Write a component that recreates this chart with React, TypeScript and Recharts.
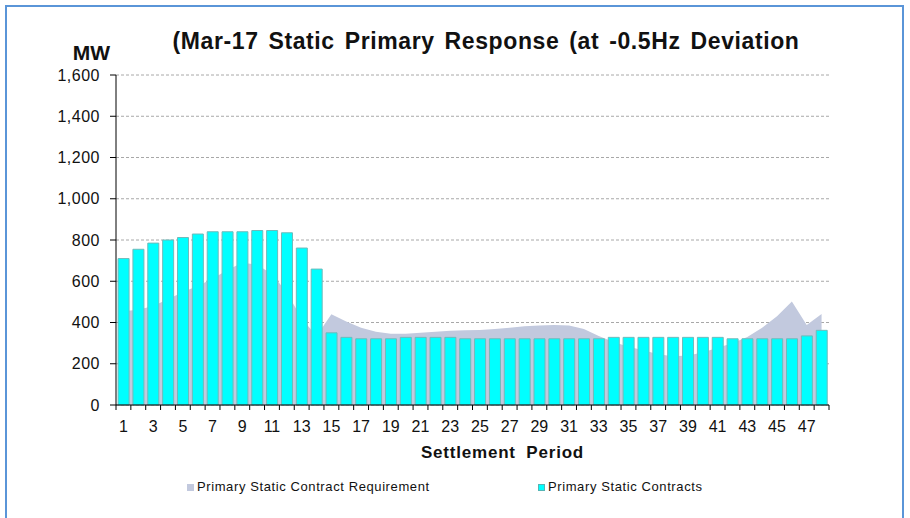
import React from "react";
import {
  ComposedChart,
  Bar,
  Area,
  XAxis,
  YAxis,
  CartesianGrid,
  Legend,
} from "recharts";

const periods = Array.from({ length: 48 }, (_, i) => i + 1);

const contracts = [
  710, 755, 785, 800, 812, 829, 840, 840, 840, 846, 846, 835, 761, 659, 350, 328,
  321, 321, 321, 328, 328, 328, 328, 321, 321, 321, 321, 321, 321, 321, 321, 321,
  321, 328, 328, 328, 328, 328, 328, 328, 328, 321, 321, 321, 321, 321, 335, 362,
];

const requirement = [
  455, 462, 480, 513, 548, 577, 612, 655, 690, 680, 635, 545, 420, 335, 440, 405,
  375, 355, 345, 345, 350, 355, 360, 362, 364, 368, 375, 382, 386, 388, 386, 368,
  335, 305, 283, 265, 246, 236, 240, 255, 277, 300, 330, 375, 430, 502, 388, 441,
];

const yTicks = [0, 200, 400, 600, 800, 1000, 1200, 1400, 1600];

const seriesNames = {
  req: "Primary Static Contract Requirement",
  con: "Primary Static Contracts",
};

const titleText = "(Mar-17 Static Primary Response (at -0.5Hz Deviation";
const yUnit = "MW";
const xTitle = "Settlement Period";

const data = periods.map((p, i) => ({
  period: p,
  req: requirement[i],
  con: contracts[i],
}));

const W = 910;
const H = 518;
const LEGEND_H = 16;
const M = { top: 75, right: 81, bottom: 73 - LEGEND_H, left: 0 };
const Y_AXIS_W = 116;
const X_AXIS_H = 40;
const PLOT_W = W - M.left - M.right - Y_AXIS_W;
const SLOT = PLOT_W / periods.length;
const TICK_SIZE = 6;
const TICK_MARGIN = 10;
const FONT = "'Liberation Sans', Arial, sans-serif";

const AREA_FILL = "#c2c9de";
const BAR_FILL = "#00ffff";

function XTick(props: any) {
  const { x, y, payload, index } = props;
  const axisY = y - TICK_SIZE - TICK_MARGIN;
  const left = x - SLOT / 2;
  const right = x + SLOT / 2;
  return (
    <g>
      <line x1={left} x2={left} y1={axisY} y2={axisY + 5} stroke="#000" />
      {index === periods.length - 1 && (
        <line x1={right} x2={right} y1={axisY} y2={axisY + 5} stroke="#000" />
      )}
      {index % 2 === 0 && (
        <text
          x={x}
          y={y}
          dy="0.71em"
          textAnchor="middle"
          fontSize={16}
          fontFamily={FONT}
          fill="#111"
        >
          {payload.value}
        </text>
      )}
    </g>
  );
}

function LegendContent() {
  const item = (left: number, color: string, label: string) => (
    <div
      style={{
        position: "absolute",
        left,
        top: 0,
        display: "flex",
        alignItems: "center",
        whiteSpace: "nowrap",
      }}
    >
      <span
        style={{
          display: "inline-block",
          width: 7,
          height: 7,
          background: color,
          marginRight: 3,
          border: color === BAR_FILL ? "1px solid #55b5b5" : "none",
          boxSizing: "border-box",
        }}
      />
      <span
        style={{
          fontFamily: FONT,
          fontSize: 13,
          letterSpacing: 0.6,
          color: "#111",
          lineHeight: "16px",
        }}
      >
        {label}
      </span>
    </div>
  );
  return (
    <div style={{ position: "relative", width: W, height: LEGEND_H }}>
      {item(187, AREA_FILL, seriesNames.req)}
      {item(538, BAR_FILL, seriesNames.con)}
    </div>
  );
}

export default function App() {
  return (
    <div
      style={{
        position: "absolute",
        left: 0,
        top: 0,
        width: W,
        height: H,
        background: "#fff",
        overflow: "hidden",
      }}
    >
      <div
        style={{
          position: "absolute",
          left: 5,
          top: 5,
          width: 899,
          height: 520,
          border: "2px solid #5a95d8",
          boxSizing: "border-box",
        }}
      />
      <div style={{ position: "absolute", left: 0, top: 0 }}>
        <ComposedChart width={W} height={H} data={data} margin={M} barCategoryGap="14%">
          <CartesianGrid
            vertical={false}
            stroke="#a8a8a8"
            strokeDasharray="3 2"
          />
          <XAxis
            dataKey="period"
            height={X_AXIS_H}
            interval={0}
            tickLine={false}
            tickSize={TICK_SIZE}
            tickMargin={TICK_MARGIN}
            axisLine={{ stroke: "#000" }}
            tick={<XTick />}
          />
          <YAxis
            width={Y_AXIS_W}
            domain={[0, 1600]}
            ticks={yTicks}
            interval={0}
            tickSize={TICK_SIZE}
            tickMargin={TICK_MARGIN}
            axisLine={{ stroke: "#000" }}
            tickLine={{ stroke: "#000" }}
            tick={{ fontSize: 16, fill: "#111", fontFamily: FONT, letterSpacing: 0.5 }}
            tickFormatter={(v: number) => v.toLocaleString("en-US")}
          />
          <Area
            dataKey="req"
            name={seriesNames.req}
            type="linear"
            fill={AREA_FILL}
            fillOpacity={1}
            stroke="none"
            isAnimationActive={false}
            dot={false}
            activeDot={false}
          />
          <Bar
            dataKey="con"
            name={seriesNames.con}
            fill={BAR_FILL}
            stroke="#6fbaba"
            strokeWidth={1}
            isAnimationActive={false}
          />
          <Legend
            content={<LegendContent />}
            wrapperStyle={{ position: "absolute", left: 0, top: 479, width: W, height: LEGEND_H }}
          />
        </ComposedChart>
      </div>
      <svg
        width={W}
        height={H}
        style={{ position: "absolute", left: 0, top: 0, pointerEvents: "none" }}
      >
        <text
          x={486}
          y={49}
          textAnchor="middle"
          fontFamily={FONT}
          fontWeight="bold"
          fontSize={23}
          letterSpacing={0.6}
          wordSpacing={3}
          fill="#111"
        >
          {titleText}
        </text>
        <text
          x={91.5}
          y={60}
          textAnchor="middle"
          fontFamily={FONT}
          fontWeight="bold"
          fontSize={21}
          fill="#111"
        >
          {yUnit}
        </text>
        <text
          x={502.5}
          y={457.5}
          textAnchor="middle"
          fontFamily={FONT}
          fontWeight="bold"
          fontSize={17}
          letterSpacing={0.8}
          wordSpacing={5}
          fill="#111"
        >
          {xTitle}
        </text>
      </svg>
    </div>
  );
}
